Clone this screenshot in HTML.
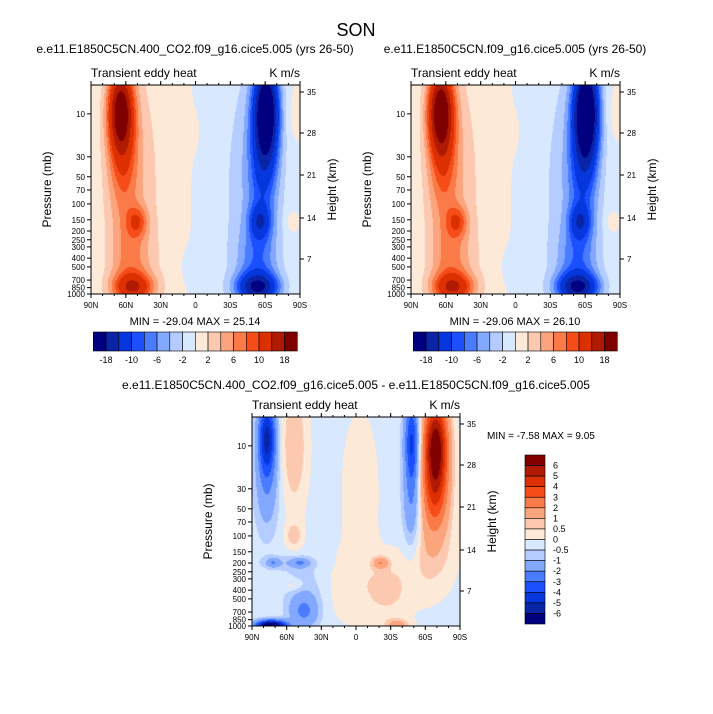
<!DOCTYPE html>
<html><head><meta charset="utf-8"><style>
body{margin:0;background:#fff;width:713px;height:714px;position:relative;overflow:hidden;font-family:"Liberation Sans",sans-serif}
canvas{position:absolute}
svg{position:absolute;left:0;top:0}
</style></head><body>
<canvas id="c1" style="left:91px;top:85px" width="209" height="209"></canvas>
<canvas id="c2" style="left:411px;top:85px" width="209" height="209"></canvas>
<canvas id="c3" style="left:252px;top:417px" width="208" height="209"></canvas>
<svg id="s" width="713" height="714"></svg>
<script>
// Field blobs: [amplitude, u(0=90N..1=90S), log10(p), sigma-u, sigma-logp]
const blobsA=[[18,0.14,0.95,0.042,0.33],[5,0.15,1.5,0.05,0.45],[6,0.22,2.2,0.035,0.12],[11,0.2,2.93,0.07,0.11],[4,0.19,2.65,0.07,0.28],[3.5,0.17,1.8,0.08,0.9],[1.2,0.3,1.8,0.12,1.4],
[-22,0.84,0.95,0.042,0.38],[-6,0.83,1.6,0.05,0.45],[-8,0.81,2.2,0.035,0.13],[-15,0.8,2.93,0.07,0.11],[-5,0.8,2.65,0.07,0.28],[-3.5,0.8,1.8,0.08,0.9],[-1.2,0.66,1.8,0.12,1.4],[1,0.97,1,0.03,0.2],[1.5,0.96,2.2,0.02,0.08],[0.4,0.5,1.2,0.03,0.2],[-0.4,0.45,2.7,0.04,0.2]];
const blobsB=[[19,0.14,0.95,0.042,0.33],[5,0.15,1.5,0.05,0.45],[6,0.22,2.2,0.035,0.12],[11,0.2,2.93,0.07,0.11],[4,0.19,2.65,0.07,0.28],[3.5,0.17,1.8,0.08,0.9],[1.2,0.3,1.8,0.12,1.4],
[-24,0.84,0.95,0.042,0.38],[-6,0.83,1.6,0.05,0.45],[-8,0.81,2.2,0.035,0.13],[-15,0.8,2.93,0.07,0.11],[-5,0.8,2.65,0.07,0.28],[-3.5,0.8,1.8,0.08,0.9],[-1.2,0.66,1.8,0.12,1.4],[1,0.97,1,0.03,0.2],[1.5,0.96,2.2,0.02,0.08],[0.4,0.5,1.2,0.03,0.2],[-0.4,0.45,2.7,0.04,0.2]];
const blobsD=[[-5,0.07,0.9,0.03,0.3],[-1.3,0.07,1.5,0.04,0.35],[7,0.885,1.0,0.042,0.38],[2.5,0.88,1.6,0.05,0.3],[0.9,0.86,2.2,0.08,0.3],[-4,0.77,0.95,0.025,0.35],[-1.6,0.77,1.7,0.03,0.35],
[1.2,0.2,1.0,0.045,0.5],[0.9,0.2,2.0,0.03,0.1],[0.45,0.52,1.5,0.07,0.7],[0.4,0.5,2.6,0.2,0.3],[-1.4,0.1,2.3,0.022,0.035],[-1.4,0.23,2.3,0.03,0.035],[-0.6,0.17,2.3,0.1,0.06],[-8,0.09,3.0,0.05,0.04],[-1.8,0.25,2.85,0.05,0.13],[-0.8,0.25,2.6,0.07,0.22],
[1.6,0.7,3.0,0.04,0.05],[1.8,0.62,2.3,0.025,0.045],[0.6,0.66,2.6,0.07,0.22],[0.7,0.2,2.55,0.04,0.05]];
const levelsTop=[-18,-14,-10,-8,-6,-4,-2,0,2,4,6,8,10,14,18];
const levelsDiff=[-6,-5,-4,-3,-2,-1,-0.5,0,0.5,1,2,3,4,5,6];
const colors=["#000080","#0a24a8","#0637dc","#1c50ff","#4a7cff","#82a8ff","#b4ccff","#d8e8ff","#fde9d8","#fcc9b0","#fca47c","#fa7a48","#f54c18","#dd3000","#b01a00","#800000"];
const topTicksLbl=["10","30","50","70","100","150","200","250","300","400","500","700","850","1000"];
const topTicks=[10,30,50,70,100,150,200,250,300,400,500,700,850,1000];
const latLbl=["90N","60N","30N","0","30S","60S","90S"];
const hLbl=["35","28","21","14","7"];const hY=[92-85,133-85,175-85,218-85,259-85];
const LTOP=0.68,LBOT=3.0;
function hex(c){return [parseInt(c.substr(1,2),16),parseInt(c.substr(3,2),16),parseInt(c.substr(5,2),16)]}
function draw(id,blobs,levels,bg){const cv=document.getElementById(id),ctx=cv.getContext('2d'),W=cv.width,H=cv.height;const im=ctx.createImageData(W,H);const rgb=colors.map(hex);
for(let j=0;j<H;j++){const v=LTOP+(LBOT-LTOP)*j/(H-1);for(let i=0;i<W;i++){const u=i/(W-1);let f=bg;for(const b of blobs){const du=(u-b[1])/b[3],dv=(v-b[2])/b[4];f+=b[0]*Math.exp(-0.5*(du*du+dv*dv));}
let k=0;while(k<levels.length&&f>=levels[k])k++;const c=rgb[k],o=(j*W+i)*4;im.data[o]=c[0];im.data[o+1]=c[1];im.data[o+2]=c[2];im.data[o+3]=255;}}ctx.putImageData(im,0,0);}
draw('c1',blobsA,levelsTop,0.0);draw('c2',blobsB,levelsTop,0.0);draw('c3',blobsD,levelsDiff,-0.2);
const S=document.getElementById('s');const NS="http://www.w3.org/2000/svg";
function el(t,a,txt){const e=document.createElementNS(NS,t);for(const k in a)e.setAttribute(k,a[k]);if(txt!==undefined)e.textContent=txt;S.appendChild(e);return e;}
function txt(x,y,s,size,anchor,name,rot){const e=el('text',{x:x,y:y,'font-size':size,'text-anchor':anchor||'middle',fill:'#000'},s);


if(rot)e.setAttribute('transform','rotate(-90 '+x+' '+y+')');return e;}
function panel(x0,y0,w,h,pre){
 const g=el('rect',{x:x0,y:y0,width:w,height:h,fill:'none',stroke:'#000','stroke-width':1});
 
 
 const py=p=>y0+(Math.log10(p)-LTOP)/(LBOT-LTOP)*h;
 topTicks.forEach((p,i)=>{const y=py(p);el('line',{x1:x0-4,x2:x0,y1:y,y2:y,stroke:'#000'});txt(x0-6,y+3,topTicksLbl[i],8,'end',pre+'-pressure-tick');});
 latLbl.forEach((l,i)=>{const x=x0+w*i/6;el('line',{x1:x,x2:x,y1:y0+h,y2:y0+h+4,stroke:'#000'});el('line',{x1:x,x2:x,y1:y0-4,y2:y0,stroke:'#000'});txt(x,y0+h+14,l,8,'middle',pre+'-lat-tick');});
 for(let i=0;i<18;i++){const x=x0+w*i/18;el('line',{x1:x,x2:x,y1:y0+h,y2:y0+h+2,stroke:'#000'});el('line',{x1:x,x2:x,y1:y0-2,y2:y0,stroke:'#000'});}
 hLbl.forEach((l,i)=>{const y=y0+hY[i];el('line',{x1:x0+w,x2:x0+w+4,y1:y,y2:y,stroke:'#000'});txt(x0+w+7,y+3,l,8,'start',pre+'-height-tick');});
 txt(x0-40,y0+h/2,'Pressure (mb)',12,'middle',pre+'-y-axis-title',true);
 txt(x0+w+36,y0+h/2,'Height (km)',12,'middle',pre+'-right-axis-title',true);
 txt(x0,y0-8,'Transient eddy heat',12,'start',pre+'-left-string');
 txt(x0+w,y0-8,'K m/s',12,'end',pre+'-units');
}
panel(91,85,209,209,'panel-left');panel(411,85,209,209,'panel-right');panel(252,417,208,209,'panel-diff');
txt(356,36,'SON',18,'middle','main-title');
txt(195,53,'e.e11.E1850C5CN.400_CO2.f09_g16.cice5.005 (yrs 26-50)',12,'middle','left-panel-title');
txt(515,53,'e.e11.E1850C5CN.f09_g16.cice5.005 (yrs 26-50)',12,'middle','right-panel-title');
txt(356,389,'e.e11.E1850C5CN.400_CO2.f09_g16.cice5.005 - e.e11.E1850C5CN.f09_g16.cice5.005',12,'middle','diff-panel-title');
txt(195,325,'MIN = -29.04  MAX =  25.14',11,'middle','left-minmax');
txt(515,325,'MIN = -29.06  MAX =  26.10',11,'middle','right-minmax');
txt(487,439,'MIN =  -7.58  MAX =   9.05',10,'start','diff-minmax');
const cbLbl=["-18","-10","-6","-2","2","6","10","18"];
function hbar(x0,pre){const bw=12.75;colors.forEach((c,i)=>{const r=el('rect',{x:x0+i*bw,y:332,width:bw,height:19,fill:c,stroke:'#000','stroke-width':0.6});

});
cbLbl.forEach((l,i)=>txt(x0+bw*(2*i+1),363,l,9,'middle',pre+'-label'));}
hbar(93.3,'left-colorbar');hbar(413.3,'right-colorbar');
const vbLbl=["6","5","4","3","2","1","0.5","0","-0.5","-1","-2","-3","-4","-5","-6"];
const vh=169/16;
for(let i=0;i<16;i++){const r=el('rect',{x:525,y:455+i*vh,width:20,height:vh,fill:colors[15-i],stroke:'#000','stroke-width':0.6});

}
vbLbl.forEach((l,i)=>txt(553,455+vh*(i+1)+3,l,9,'start','diff-colorbar-label'));
</script>
</body></html>
